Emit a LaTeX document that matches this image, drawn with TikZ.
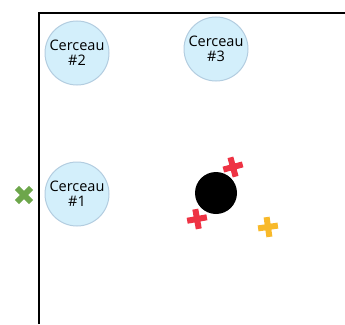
\documentclass[tikz,border=0pt]{standalone}
\usepackage{fontspec}
\setmainfont{Open Sans}
\definecolor{cerceaufill}{HTML}{D3EFFB}
\definecolor{cerceauline}{HTML}{B3CDE0}
\definecolor{croixrouge}{HTML}{EE3344}
\definecolor{croixjaune}{HTML}{F8B92A}
\definecolor{croixverte}{HTML}{6DA64B}

\begin{document}
\begin{tikzpicture}[x=1pt,y=-1pt]
\tikzstyle{cerceau}=[circle,draw=cerceauline,fill=cerceaufill,line width=1,
  minimum size=64,inner sep=0pt,align=center,font=\fontsize{14.5}{15}\selectfont]
\tikzstyle{balle}=[circle,fill=black,minimum size=42,inner sep=0pt]
\tikzstyle{croix}=[line width=6]
\useasboundingbox (0,0) rectangle (345,324);
% terrain
\coordinate (bas) at (39,324);
\coordinate (coin) at (39,13);
\coordinate (droite) at (345,13);
\draw [black,line width=1.4] (bas) -- (coin) -- (droite);
% cerceaux
\node[cerceau] (c1) at (77,194) {Cerceau\\\#1};
\node[cerceau] (c2) at (77,53) {Cerceau\\\#2};
\node[cerceau] (c3) at (216,49) {Cerceau\\\#3};
% balle et croix
\node[balle] (balle) at (216,193) {};
\coordinate (r1) at (233,167);
\coordinate (r2) at (197,219);
\coordinate (j1) at (268,227);
\coordinate (v1) at (24,195);
\draw [croix,croixrouge,rotate around={15:(r1)}] ([xshift=-10]r1) -- ([xshift=10]r1) ([yshift=-10]r1) -- ([yshift=10]r1);
\draw [croix,croixrouge,rotate around={10:(r2)}] ([xshift=-10]r2) -- ([xshift=10]r2) ([yshift=-10]r2) -- ([yshift=10]r2);
\draw [croix,croixjaune,rotate around={8:(j1)}] ([xshift=-10]j1) -- ([xshift=10]j1) ([yshift=-10]j1) -- ([yshift=10]j1);
\draw [croix,croixverte,rotate around={45:(v1)}] ([xshift=-10]v1) -- ([xshift=10]v1) ([yshift=-10]v1) -- ([yshift=10]v1);
\end{tikzpicture}
\end{document}
